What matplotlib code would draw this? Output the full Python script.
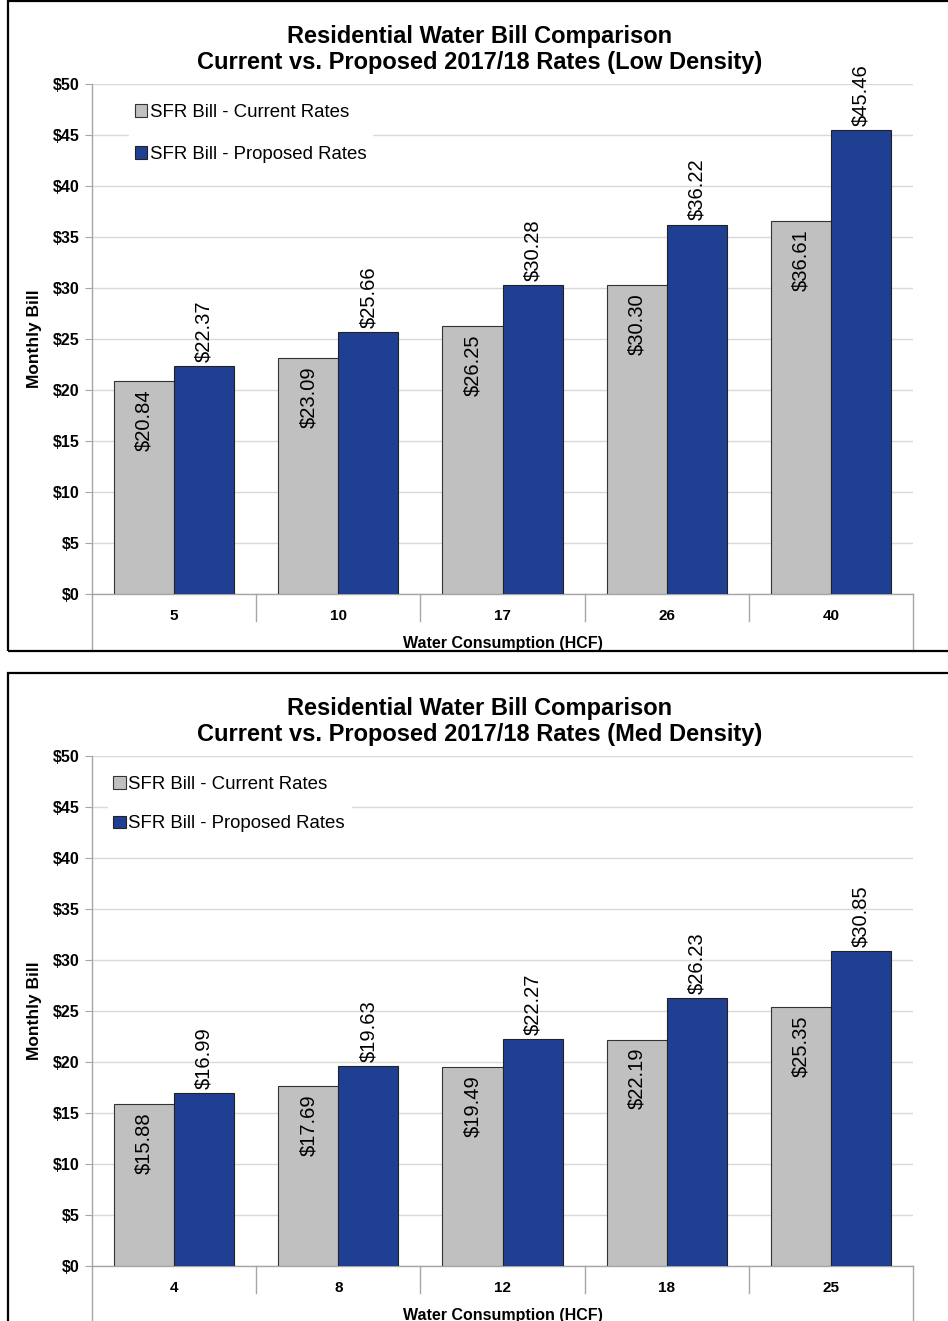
import numpy as np
import matplotlib
matplotlib.use("Agg")
import matplotlib.pyplot as plt
from matplotlib.patches import Rectangle

plt.rcParams['font.family'] = ['Liberation Sans', 'DejaVu Sans']

# data
low_hcf = ["5", "10", "17", "26", "40"]
low_current = [20.84, 23.09, 26.25, 30.30, 36.61]
low_proposed = [22.37, 25.66, 30.28, 36.22, 45.46]

med_hcf = ["4", "8", "12", "18", "25"]
med_current = [15.88, 17.69, 19.49, 22.19, 25.35]
med_proposed = [16.99, 19.63, 22.27, 26.23, 30.85]

yticks = [0, 5, 10, 15, 20, 25, 30, 35, 40, 45, 50]

GREY = "#C0C0C0"
BLUE = "#1F3F93"
GRID = "#D9D9D9"
AXC = "#A6A6A6"

W, H = 948, 1321
fig = plt.figure(figsize=(W / 100, H / 100), dpi=100)


def px(x0, y0, x1, y1):
    # pixel box -> figure fraction [left, bottom, width, height]
    return [x0 / W, 1 - y1 / H, (x1 - x0) / W, (y1 - y0) / H]


def panel(top, cats, cur, prop, density, leg_x, leg_y, leg_sp):
    # border
    fig.patches.append(Rectangle((8 / W, 1 - (top + 651) / H), 960 / W, 650 / H,
                                 transform=fig.transFigure, fill=False,
                                 edgecolor="black", linewidth=1.6, zorder=0))
    fig.text(480 / W, 1 - (top + 36) / H, "Residential Water Bill Comparison",
             ha="center", va="center", fontsize=17, fontweight="bold")
    fig.text(480 / W, 1 - (top + 63) / H,
             "Current vs. Proposed 2017/18 Rates (%s)" % density,
             ha="center", va="center", fontsize=17, fontweight="bold")

    ax = fig.add_axes(px(92, top + 84, 913, top + 594))
    x = np.arange(len(cats))
    bw = 0.366
    ax.bar(x - bw / 2, cur, bw, color=GREY, edgecolor="#333333",
           linewidth=0.8, label="SFR Bill - Current Rates", zorder=3)
    ax.bar(x + bw / 2, prop, bw, color=BLUE, edgecolor="#222222",
           linewidth=0.8, label="SFR Bill - Proposed Rates", zorder=3)

    for xi, v in zip(x - bw / 2, cur):
        ax.annotate("$%.2f" % v, (xi, v), xytext=(0, -6), textcoords="offset points",
                    rotation=90, ha="center", va="top", fontsize=14.5, zorder=4)
    for xi, v in zip(x + bw / 2, prop):
        ax.annotate("$%.2f" % v, (xi, v), xytext=(0, 3), textcoords="offset points",
                    rotation=90, ha="center", va="bottom", fontsize=14.5, zorder=4)

    ax.set_xlim(-0.5, len(cats) - 0.5)
    ax.set_ylim(0, 50)
    ax.set_yticks(yticks)
    ax.set_yticklabels(["$%d" % t for t in yticks], fontsize=11.5, fontweight="bold")
    ax.yaxis.grid(True, color=GRID, linewidth=1, zorder=0)
    ax.set_axisbelow(True)
    ax.tick_params(axis="y", length=5, color=AXC, pad=4)
    ax.set_xticks(x)
    ax.set_xticklabels(cats, fontsize=11, fontweight="bold")
    ax.tick_params(axis="x", length=0, pad=10.5)
    for s in ["top", "right"]:
        ax.spines[s].set_visible(False)
    for s in ["left", "bottom"]:
        ax.spines[s].set_color(AXC)
        ax.spines[s].set_linewidth(1)

    # category separators and extended frame below the axis
    for b in np.arange(0.5, len(cats) - 0.5, 1.0):
        ax.plot([b, b], [0, -0.053], transform=ax.get_xaxis_transform(),
                color=AXC, linewidth=1, clip_on=False)
    for b in [-0.5, len(cats) - 0.5]:
        ax.plot([b, b], [0, -0.111], transform=ax.get_xaxis_transform(),
                color=AXC, linewidth=1, clip_on=False)

    ax.text(0.5, -0.098, "Water Consumption (HCF)", transform=ax.transAxes,
            ha="center", va="center", fontsize=11.5, fontweight="bold")
    ax.set_ylabel("Monthly Bill", fontsize=12.5, fontweight="bold", labelpad=8)

    leg = ax.legend(loc="upper left", bbox_to_anchor=(leg_x, leg_y), frameon=True,
                    fontsize=13.4, handlelength=0.65, handleheight=0.65,
                    handletextpad=0.15, labelspacing=leg_sp, borderpad=0.3,
                    fancybox=False)
    leg.get_frame().set_edgecolor("white")
    leg.get_frame().set_facecolor("white")
    leg.get_frame().set_alpha(1)
    return ax


panel(0, low_hcf, low_current, low_proposed, "Low Density", 0.034, 0.99, 1.35)
panel(672, med_hcf, med_current, med_proposed, "Med Density", 0.008, 0.99, 1.2)

fig.savefig("out.png", dpi=100)
